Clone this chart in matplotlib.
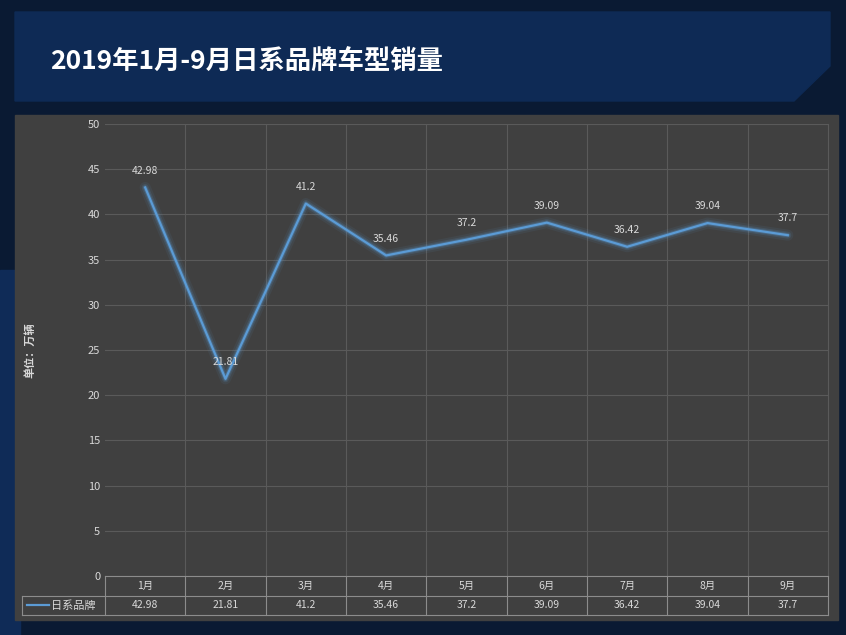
import matplotlib.pyplot as plt
from matplotlib.patches import Polygon, Rectangle

plt.rcParams['font.family'] = 'Noto Sans CJK SC'

months = ['1月', '2月', '3月', '4月', '5月', '6月', '7月', '8月', '9月']
sales = [42.98, 21.81, 41.2, 35.46, 37.2, 39.09, 36.42, 39.04, 37.7]
labels = ['42.98', '21.81', '41.2', '35.46', '37.2', '39.09', '36.42', '39.04', '37.7']
series_name = '日系品牌'
title = '2019年1月-9月日系品牌车型销量'
y_label = '单位：万辆'

W, H = 846, 635
fig = plt.figure(figsize=(W / 100, H / 100), dpi=100)
fig.patch.set_facecolor('#0a1a33')


def box(x, y, w, h):
    # pixel box (top-left origin) -> figure fraction rect
    return [x / W, 1 - (y + h) / H, w / W, h / H]


bg = fig.add_axes([0, 0, 1, 1])
bg.set_xlim(0, W)
bg.set_ylim(H, 0)
bg.axis('off')
bg.add_patch(Rectangle((0, 270), 20, 365, color='#0f2b57'))
bg.add_patch(Polygon([(15, 12), (830, 12), (830, 66), (794, 101), (15, 101)], color='#0e2a55'))
bg.add_patch(Rectangle((15, 115), 823, 505, color='#404040'))
bg.text(50, 62, title, color='white', fontsize=19, fontweight='bold', va='center')
bg.text(30, 350, y_label, color='#d9d9d9', fontsize=8, rotation=90, va='center', ha='center', fontweight='bold')

ax = fig.add_axes(box(105, 124, 723, 452))
ax.set_facecolor('#404040')
x = list(range(len(months)))
for lw, a in [(8, 0.08), (5, 0.15), (3, 0.3)]:
    ax.plot(x, sales, color='#5b9bd5', lw=lw, alpha=a, solid_capstyle='round')
ax.plot(x, sales, color='#5b9bd5', lw=1.6)
for xi, v, t in zip(x, sales, labels):
    ax.text(xi, v + 1.3, t, color='#d9d9d9', fontsize=7.5, ha='center', va='bottom')
ax.set_xlim(-0.5, len(months) - 0.5)
ax.set_ylim(0, 50)
ax.set_yticks(range(0, 51, 5))
ax.set_xticks([i + 0.5 for i in x[:-1]])
ax.set_xticklabels([])
ax.grid(True, color='#5a5a5a', lw=0.8)
ax.tick_params(colors='#d9d9d9', labelsize=8, length=0)
for s in ax.spines.values():
    s.set_visible(False)
ax.axvline(len(months) - 0.5, color='#5a5a5a', lw=0.8, clip_on=False)

# data table
tb = fig.add_axes(box(22, 576, 806, 39))
tb.set_xlim(-83 / 80.3, len(months))
tb.set_ylim(2, 0)
tb.axis('off')
lc = '#8c8c8c'
kw = dict(color=lc, lw=0.8, clip_on=False)
tb.plot([0, len(months)], [0, 0], **kw)
tb.plot([-83 / 80.3, len(months)], [1, 1], **kw)
tb.plot([-83 / 80.3, len(months)], [2, 2], **kw)
tb.plot([-83 / 80.3] * 2, [1, 2], **kw)
for i in range(len(months) + 1):
    tb.plot([i, i], [0, 2], **kw)
for i, (m, t) in enumerate(zip(months, labels)):
    tb.text(i + 0.5, 0.5, m, color='#d9d9d9', fontsize=7.5, ha='center', va='center')
    tb.text(i + 0.5, 1.5, t, color='#d9d9d9', fontsize=7.5, ha='center', va='center')
tb.plot([-0.97, -0.7], [1.5, 1.5], color='#5b9bd5', lw=1.6)
tb.text(-0.67, 1.5, series_name, color='#d9d9d9', fontsize=8, va='center')

fig.savefig('out.png', dpi=100, facecolor=fig.get_facecolor())
